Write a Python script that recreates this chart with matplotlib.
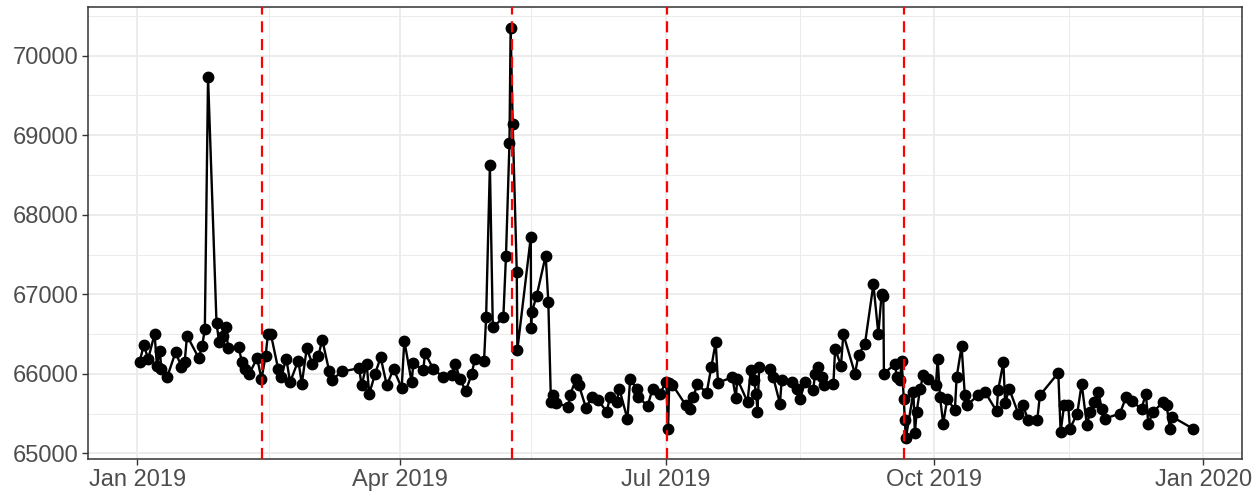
import matplotlib
matplotlib.use("Agg")
import matplotlib.pyplot as plt
import matplotlib.dates as mdates
import numpy as np
import pandas as pd

# Day offsets from 2019-01-01 and values
days = [0.9, 2.3, 3.8, 6.0, 6.8, 7.8, 8.3, 10.3, 13.2, 15.2, 16.3, 17.1, 21.1, 22.3,
        23.2, 24.3, 27.2, 28.1, 29.3, 30.4, 31.2, 34.8, 35.9, 36.9, 38.4, 41.1, 42.6,
        44.0, 44.8, 45.8, 48.3, 49.2, 51.1, 52.4, 55.2, 56.4, 58.1, 60.0, 62.1, 63.4,
        65.8, 66.6, 70.3, 76.0, 76.9, 78.6, 79.5, 81.5, 83.4, 85.5, 87.8, 90.6, 91.5,
        94.0, 94.6, 98.0, 98.6, 101.4, 104.8, 107.7, 108.9, 110.6, 112.5, 114.6, 115.6,
        118.8, 119.5, 120.8, 121.8, 125.4, 126.3, 127.5, 127.9, 128.6, 130.0, 130.2,
        134.8, 134.9, 135.1, 136.8, 139.9, 140.8, 141.7, 142.5, 143.4, 147.7, 148.2,
        150.3, 151.3, 153.7, 155.7, 157.9, 160.8, 161.9, 164.2, 165.1, 167.9, 168.8,
        171.1, 171.6, 174.8, 176.5, 179.0, 181.2, 181.8, 182.2, 183.3, 187.9, 189.2,
        190.5, 191.8, 195.0, 196.6, 198.1, 198.9, 203.8, 205.0, 205.5, 209.0, 210.1,
        211.2, 212.0, 212.4, 213.0, 216.7, 217.8, 220.1, 220.7, 224.4, 225.8, 227.0,
        228.7, 231.5, 232.1, 233.2, 234.4, 235.2, 238.4, 239.0, 241.0, 241.8, 245.8,
        247.0, 249.2, 252.1, 253.8, 254.9, 255.5, 255.7, 259.5, 260.1, 261.2, 261.8,
        262.5, 262.9, 263.2, 265.8, 266.3, 266.9, 268.1, 269.2, 270.9, 273.5, 274.1,
        274.9, 276.0, 277.4, 280.0, 280.6, 282.3, 283.4, 284.0, 288.0, 290.3, 294.3,
        294.8, 296.6, 297.2, 298.6, 301.7, 303.2, 305.2, 308.2, 309.1, 315.4, 316.2,
        317.4, 318.8, 319.4, 321.9, 323.4, 325.2, 326.3, 327.7, 329.1, 330.3, 331.4,
        336.5, 338.6, 340.5, 343.9, 345.4, 346.2, 347.9, 351.3, 352.5, 353.6, 354.5,
        361.4]
values = [66154, 66362, 66187, 66500, 66104, 66292, 66062, 65958, 66275, 66083, 66150,
          66479, 66200, 66354, 66562, 69729, 66637, 66396, 66479, 66583, 66321, 66333,
          66146, 66062, 66000, 66196, 65937, 66221, 66500, 66500, 66062, 65958, 66187,
          65896, 66167, 65875, 66321, 66125, 66229, 66429, 66029, 65925, 66029, 66071,
          65854, 66125, 65750, 66000, 66208, 65854, 66062, 65821, 66417, 65896, 66133,
          66050, 66262, 66062, 65958, 65979, 66125, 65937, 65779, 66000, 66180, 66167,
          66708, 68625, 66583, 66708, 67479, 68904, 70354, 69146, 67283, 66300, 67721,
          66575, 66771, 66979, 67487, 66904, 65646, 65729, 65637, 65583, 65729, 65937,
          65854, 65571, 65708, 65667, 65521, 65708, 65646, 65812, 65429, 65929, 65812,
          65708, 65596, 65812, 65750, 65900, 65312, 65890, 65862, 65604, 65562, 65708,
          65875, 65758, 66083, 66396, 65887, 65958, 65696, 65937, 65646, 66042, 65917,
          65750, 65521, 66083, 66062, 65958, 65625, 65917, 65896, 65812, 65687, 65896,
          65792, 66000, 66083, 65958, 65862, 65875, 66312, 66104, 66500, 66000, 66240,
          66375, 67125, 66500, 67000, 66979, 66000, 66125, 65958, 65917, 66167, 65687,
          65417, 65187, 65771, 65250, 65521, 65812, 65987, 65937, 65854, 66187, 65708,
          65375, 65687, 65542, 65958, 66346, 65729, 65604, 65729, 65771, 65529, 65792,
          66146, 65637, 65812, 65500, 65604, 65417, 65417, 65729, 66012, 65271, 65604,
          65604, 65312, 65500, 65875, 65354, 65521, 65640, 65771, 65562, 65437, 65500,
          65708, 65654, 65562, 65750, 65375, 65521, 65646, 65604, 65312, 65458, 65312]

# Day offsets of the red dashed reference lines
event_days = [42.9, 128.3, 181.3, 262.7]

base = pd.Timestamp("2019-01-01")
dates = base + pd.to_timedelta(days, unit="D")
events = base + pd.to_timedelta(event_days, unit="D")

plt.rcParams["font.family"] = ["Liberation Sans", "DejaVu Sans"]

fig = plt.figure(figsize=(12.58, 5.0), dpi=100)
ax = fig.add_axes([88 / 1258, 41 / 500, (1242 - 88) / 1258, (493 - 41) / 500])

ax.plot(dates, values, color="black", lw=1.7, zorder=3)
ax.plot(dates, values, "o", color="black", ms=7.5, zorder=3)
for e in events:
    ax.axvline(e, color="#FF0000", lw=1.6, dashes=(5, 3), zorder=4)

ax.set_xlim(mdates.date2num(base - pd.Timedelta(days=16.8)),
            mdates.date2num(base + pd.Timedelta(days=378.3)))
vmin, vmax = min(values), max(values)
vr = vmax - vmin
ax.set_ylim(vmin - 0.05 * vr, vmax + 0.05 * vr)

major_x = pd.to_datetime(["2019-01-01", "2019-04-01", "2019-07-01", "2019-10-01", "2020-01-01"])
minor_x = pd.to_datetime(["2019-02-15", "2019-05-16", "2019-08-16", "2019-11-16"])
ax.set_xticks(mdates.date2num(major_x))
ax.set_xticks(mdates.date2num(minor_x), minor=True)
ax.xaxis.set_major_formatter(mdates.DateFormatter("%b %Y"))
ax.set_yticks(np.arange(65000, 70001, 1000))
ax.set_yticks(np.arange(65500, 70501, 1000), minor=True)

ax.grid(which="major", color="#EBEBEB", lw=1.3, zorder=0)
ax.grid(which="minor", color="#EBEBEB", lw=0.7, zorder=0)
ax.set_axisbelow(True)

ax.tick_params(which="major", length=4, width=1.0, color="#333333",
               labelsize=17, labelcolor="#4D4D4D", pad=3)
ax.tick_params(which="minor", length=0)
for s in ax.spines.values():
    s.set_color("#333333")
    s.set_linewidth(1.1)

fig.savefig("out.png", dpi=100, facecolor="white")
